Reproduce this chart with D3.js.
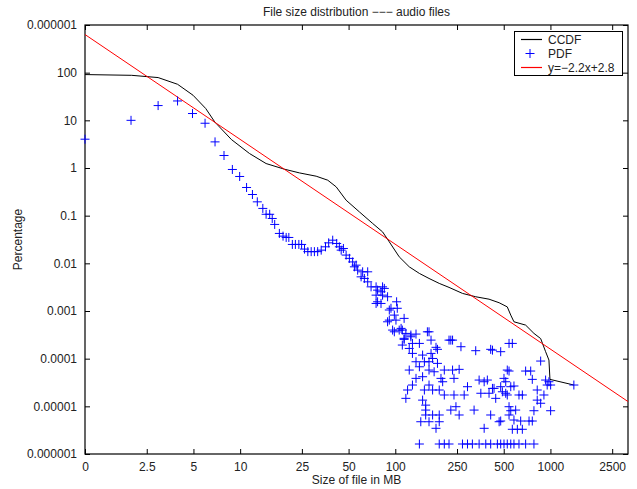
<!DOCTYPE html>
<html>
<head>
<meta charset="utf-8">
<script src="https://cdn.jsdelivr.net/npm/d3@7"></script>
<style>
  body { margin: 0; background: #fff; }
  svg text { font-family: "Liberation Sans", Arial, sans-serif; fill: #222; }
</style>
</head>
<body>
<svg></svg>
<script>
// file size in MB, percentage
let ccdfPoints = [[1,91.2],[2.0,88],[2.96,78.9],[3.95,57.1],[4.97,33.6],[6.0,17.7],[6.86,9.25],[8.78,3.96],
  [11.5,2.01],[14.7,1.24],[19.3,0.944],[24.1,0.789],[30.9,0.673],[36.7,0.555],[41.6,0.402],[48.2,0.211],
  [58.7,0.120],[71.5,0.0686],[82.8,0.0457],[91.5,0.0282],[106,0.0137],[123,0.00845],[143,0.00614],
  [165,0.00482],[192,0.00379],[222,0.00313],[271,0.00234],[330,0.00199],[402,0.00177],[467,0.00149],
  [527,0.00122],[555,0.00082],[582,0.000594],[692,0.000506],[783,0.000339],[865,0.000264],[931,0.000140],
  [978,0.0000936],[993,0.0000368],[1416,0.000028]];

let pdfPoints = [[1,4.02],[1.98,10.0],[2.96,20.4],[3.95,25.5],[4.93,13.9],[5.94,8.69],[6.89,3.53],[7.87,1.83],
  [8.91,0.931],[9.93,0.664],[11.0,0.390],[12.0,0.278],[12.9,0.195],[14.0,0.142],[14.7,0.107],[15.5,0.107],
  [16.1,0.0873],[16.7,0.0655],[17.9,0.0424],[18.9,0.0372],[19.8,0.0349],[20.6,0.0349],[21.7,0.0249],
  [22.7,0.0249],[23.9,0.0249],[24.9,0.0249],[26.0,0.0199],[27.3,0.0176],[28.7,0.0176],[30.1,0.0176],
  [31.6,0.0176],[33.3,0.0189],[35.5,0.0222],[37.2,0.0269],[39.5,0.0306],[41.9,0.0261],[43.6,0.0222],
  [44.8,0.0189],[46.3,0.0205],[48.2,0.0149],[50.6,0.0127],[53.1,0.0107],[54.5,0.00845],[55.9,0.00916],
  [57.2,0.00719],[60.2,0.00521],[63.2,0.00482],[66.4,0.00409],[69.8,0.00321],[75.2,0.00321],[82.8,0.00321],
  [61.6,0.00664],[66.4,0.00664],[76.9,0.00274],[85.0,0.00298],[75.2,0.00215],[82.8,0.00215],[89.2,0.00199],
  [75.2,0.00144],[80.9,0.00144],[93.8,0.00114],[103,0.00114],[102,0.00156],[91.5,0.000644],[101,0.000644],
  [114,0.000700],[98.6,0.000366],[109,0.000432],[117,0.000339],[136,0.000328],[161,0.000366],[228,0.000245],
  [234,0.000245],[265,0.000178],[80.9,0.00253],[76.9,0.00156],[96.1,0.000398],[111,0.000398],[126,0.000288],
  [114,0.000267],[165,0.000366],[170,0.000245],[143,0.000209],[222,0.000245],[111,0.000193],[183,0.000173],
  [91.5,0.00105],[98.6,0.000820],[89.2,0.000594],[106,0.000398],[126,0.000313],[114,0.000254],[129,0.000209],
  [123,0.000164],[187,0.000157],[330,0.000147],[423,0.000151],[478,0.000140],[129,0.000129],[150,0.000119],
  [170,0.000129],[136,0.0000861],[154,0.0000861],[165,0.0000861],[174,0.000101],[187,0.0000796],
  [123,0.0000577],[143,0.0000676],[165,0.0000577],[178,0.0000531],[207,0.0000577],[234,0.0000577],
  [258,0.0000597],[527,0.0000577],[136,0.0000386],[129,0.0000280],[150,0.0000418],[197,0.0000386],
  [202,0.0000328],[239,0.0000386],[120,0.0000220],[117,0.0000147],[154,0.0000220],[165,0.0000280],
  [174,0.0000220],[192,0.0000220],[207,0.0000173],[239,0.0000173],[278,0.0000173],[292,0.0000258],
  [347,0.0000356],[374,0.0000328],[392,0.0000356],[433,0.0000238],[478,0.0000258],[356,0.0000188],
  [402,0.0000188],[444,0.0000147],[515,0.0000188],[150,0.0000135],[157,0.0000106],[246,0.00000982],
  [228,0.00000835],[322,0.00000835],[157,0.00000835],[157,0.00000658],[174,0.00000658],[192,0.00000658],
  [258,0.00000658],[412,0.00000658],[467,0.00000475],[146,0.00000475],[165,0.00000475],[192,0.00000475],
  [183,0.00000346],[374,0.00000346],
  [541,0.000209],[568,0.000209],[412,0.000157],[865,0.0000891],[541,0.0000550],[692,0.0000550],
  [746,0.0000550],[502,0.0000386],[764,0.0000368],[931,0.0000356],[953,0.0000280],[1003,0.0000280],
  [1416,0.0000280],[515,0.0000328],[555,0.0000258],[582,0.0000267],[423,0.0000238],[490,0.0000202],
  [527,0.0000173],[627,0.0000173],[659,0.0000173],[822,0.0000220],[908,0.0000173],[822,0.0000135],
  [865,0.0000116],[541,0.00000982],[555,0.00000809],[597,0.00000835],[783,0.00000809],[1003,0.00000809],
  [541,0.00000658],[478,0.00000492],[643,0.00000492],[728,0.00000492],[764,0.00000492],[568,0.00000330],
  [612,0.00000330],[659,0.00000330],[978,0.0000328],[582,0.00000516],
  [143,0.00000162],[192,0.00000162],[207,0.00000162],[222,0.00000162],[271,0.00000162],[292,0.00000162],
  [314,0.00000162],[347,0.00000162],[383,0.00000162],[412,0.00000162],[455,0.00000162],[478,0.00000162],
  [502,0.00000162],[527,0.00000162],[555,0.00000162],[582,0.00000162],[627,0.00000162],[692,0.00000162],
  [783,0.00000162]];

// fitted line: log10(y) = slope*log10(x) + intercept
let fitSlope = -2.2, fitIntercept = 2.8;
let fitRange = [1, 3162];

let xTickValues = [1, 2.5, 5, 10, 25, 50, 100, 250, 500, 1000, 2500];
let xTickLabels = ["0", "2.5", "5", "10", "25", "50", "100", "250", "500", "1000", "2500"];
let yTickValues = [1e3, 1e2, 1e1, 1, 1e-1, 1e-2, 1e-3, 1e-4, 1e-5, 1e-6];
let yTickLabels = ["0.000001", "100", "10", "1", "0.1", "0.01", "0.001", "0.0001", "0.00001", "0.000001"];

var svgWidth = 637, svgHeight = 489;
var plotLeft = 85, plotRight = 628, plotTop = 25, plotBottom = 454;

var svg = d3.select('svg')
            .attr("width", svgWidth)
            .attr("height", svgHeight);

var xScale = d3.scaleLog().domain([1, 3162]).range([plotLeft, plotRight]);
var yScale = d3.scaleLog().domain([1e-6, 1e3]).range([plotBottom, plotTop]);

svg.append("clipPath").attr("id", "plotclip")
   .append("rect")
   .attr("x", plotLeft).attr("y", plotTop)
   .attr("width", plotRight - plotLeft).attr("height", plotBottom - plotTop);

// axes, ticks pointing inward on all four sides
var xLabel = d => xTickLabels[xTickValues.indexOf(d)];
var yLabel = d => yTickLabels[yTickValues.indexOf(d)];

var axes = [
  {ax: d3.axisBottom(xScale).tickValues(xTickValues).tickFormat(xLabel), t: `translate(0,${plotBottom})`},
  {ax: d3.axisTop(xScale).tickValues(xTickValues).tickFormat(""), t: `translate(0,${plotTop})`},
  {ax: d3.axisLeft(yScale).tickValues(yTickValues).tickFormat(yLabel), t: `translate(${plotLeft},0)`},
  {ax: d3.axisRight(yScale).tickValues(yTickValues).tickFormat(""), t: `translate(${plotRight},0)`}
];
axes.forEach(a => {
  var g = svg.append("g")
     .attr("transform", a.t)
     .call(a.ax.tickSizeInner(-5).tickSizeOuter(0).tickPadding(8));
  g.select(".domain").remove();
  g.selectAll("line").attr("stroke", "#000");
  g.selectAll("text").style("font-size", "12px").attr("fill", "#222");
});

svg.append("rect")
   .attr("x", plotLeft).attr("y", plotTop)
   .attr("width", plotRight - plotLeft).attr("height", plotBottom - plotTop)
   .attr("fill", "none").attr("stroke", "#000").attr("stroke-width", 1.2);

var plot = svg.append("g").attr("clip-path", "url(#plotclip)");

// CCDF
var line = d3.line()
             .x(d => xScale(d[0]))
             .y(d => yScale(d[1]));
plot.append("path")
    .datum(ccdfPoints)
    .attr("d", line)
    .attr("fill", "none")
    .attr("stroke", "#000")
    .attr("stroke-width", 1);

// fitted line
var fitLine = fitRange.map(x => [x, Math.pow(10, fitSlope * Math.log10(x) + fitIntercept)]);
plot.append("path")
    .datum(fitLine)
    .attr("d", line)
    .attr("fill", "none")
    .attr("stroke", "#ff0000")
    .attr("stroke-width", 1);

// PDF markers
svg.append("g").selectAll("path")
   .data(pdfPoints)
   .enter()
   .append("path")
   .attr("transform", d => `translate(${xScale(d[0])},${yScale(d[1])})`)
   .attr("d", "M-4.5,0H4.5M0,-4.5V4.5")
   .attr("stroke", "#0000ff")
   .attr("stroke-width", 1)
   .attr("fill", "none");

// title and axis labels
svg.append("text")
   .attr("x", (plotLeft + plotRight) / 2).attr("y", 16)
   .attr("text-anchor", "middle")
   .style("font-size", "12px")
   .text("File size distribution \u2212\u2212\u2212 audio files");

svg.append("text")
   .attr("x", (plotLeft + plotRight) / 2).attr("y", 484)
   .attr("text-anchor", "middle")
   .style("font-size", "12px")
   .text("Size of file in MB");

svg.append("text")
   .attr("transform", `translate(22,${(plotTop + plotBottom) / 2}) rotate(-90)`)
   .attr("text-anchor", "middle")
   .style("font-size", "12px")
   .text("Percentage");

// legend
var legend = svg.append("g");
legend.append("rect")
      .attr("x", 514.5).attr("y", 31.5)
      .attr("width", 108).attr("height", 44)
      .attr("fill", "#fff").attr("stroke", "#000").attr("stroke-width", 1);

var legendItems = [
  {name: "CCDF", color: "#000000", type: "line"},
  {name: "PDF", color: "#0000ff", type: "plus"},
  {name: "y=\u22122.2x+2.8", color: "#ff0000", type: "line"}
];
legendItems.forEach((item, i) => {
  var y = 39.5 + i * 14;
  if (item.type === "line") {
    legend.append("path")
          .attr("d", `M521,${y}H542`)
          .style("stroke", item.color)
          .style("stroke-width", "1.2px")
          .style("fill", "none");
  } else {
    legend.append("path")
          .attr("transform", `translate(530,${y})`)
          .attr("d", "M-4.5,0H4.5M0,-4.5V4.5")
          .style("stroke", item.color)
          .style("fill", "none");
  }
  legend.append("text")
        .attr("x", 548).attr("y", y + 4.5)
        .style("font-size", "12px")
        .text(item.name);
});
</script>
</body>
</html>
